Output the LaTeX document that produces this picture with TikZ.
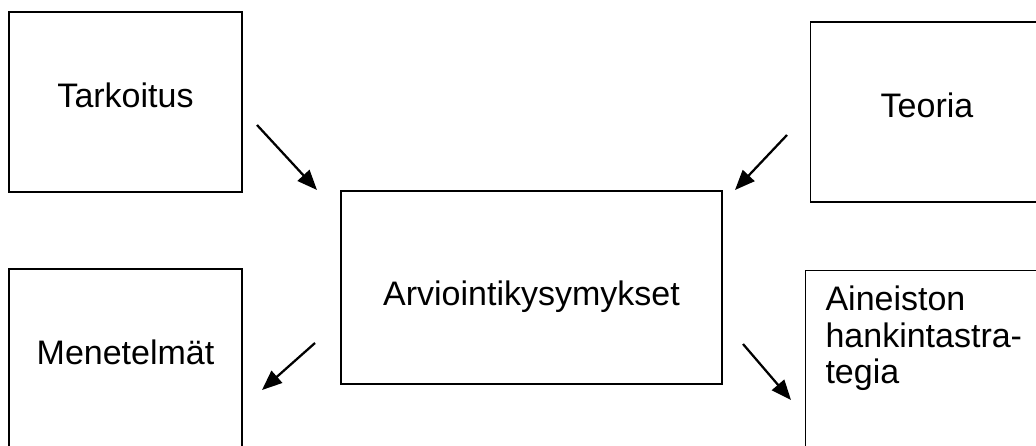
\documentclass[tikz,border=0pt]{standalone}
\usepackage{fontspec}
\setmainfont{Liberation Sans}
\usetikzlibrary{arrows.meta, positioning}

\begin{document}
\begin{tikzpicture}[x=0.75pt, y=-0.75pt,
  box/.style={draw, line width=0.8pt, minimum width=174.75pt, minimum height=135pt,
    inner sep=0pt, text height=18pt, text depth=10pt,
    font=\fontsize{25.5pt}{27.4pt}\selectfont}]

\useasboundingbox (0,0) rectangle (1036,446);
\clip (0,0) rectangle (1036,446);

\node (T) [box] at (125.5,102) {Tarkoitus};
\node (E) [box] at (927,112) {Teoria};
\node (A) [box, minimum width=285.75pt, minimum height=144.75pt, text height=26.25pt, text depth=0pt] at (531.5,287.5) {Arviointikysymykset};
\node (M) [box] at (125.5,359) {Menetelmät};
\node (H) [box, anchor=north west, align=left, text width=160pt, inner xsep=15pt, text height=30pt, text depth=105pt] at (805,270) {Aineiston\\hankintastra-\\tegia};

%Arrow ends:
\coordinate (TA) at (257,125);
\coordinate (AT) at (317,190);
\coordinate (EA) at (787,135);
\coordinate (AE) at (735,190);
\coordinate (AM) at (315,343);
\coordinate (MA) at (262,390);
\coordinate (AH) at (743,344);
\coordinate (HA) at (791,400);

\path [line width=1.7pt, -{Triangle[length=15pt, width=12pt]}]
(TA) edge (AT)
(EA) edge (AE)
(AM) edge (MA)
(AH) edge (HA)
;

\end{tikzpicture}
\end{document}
